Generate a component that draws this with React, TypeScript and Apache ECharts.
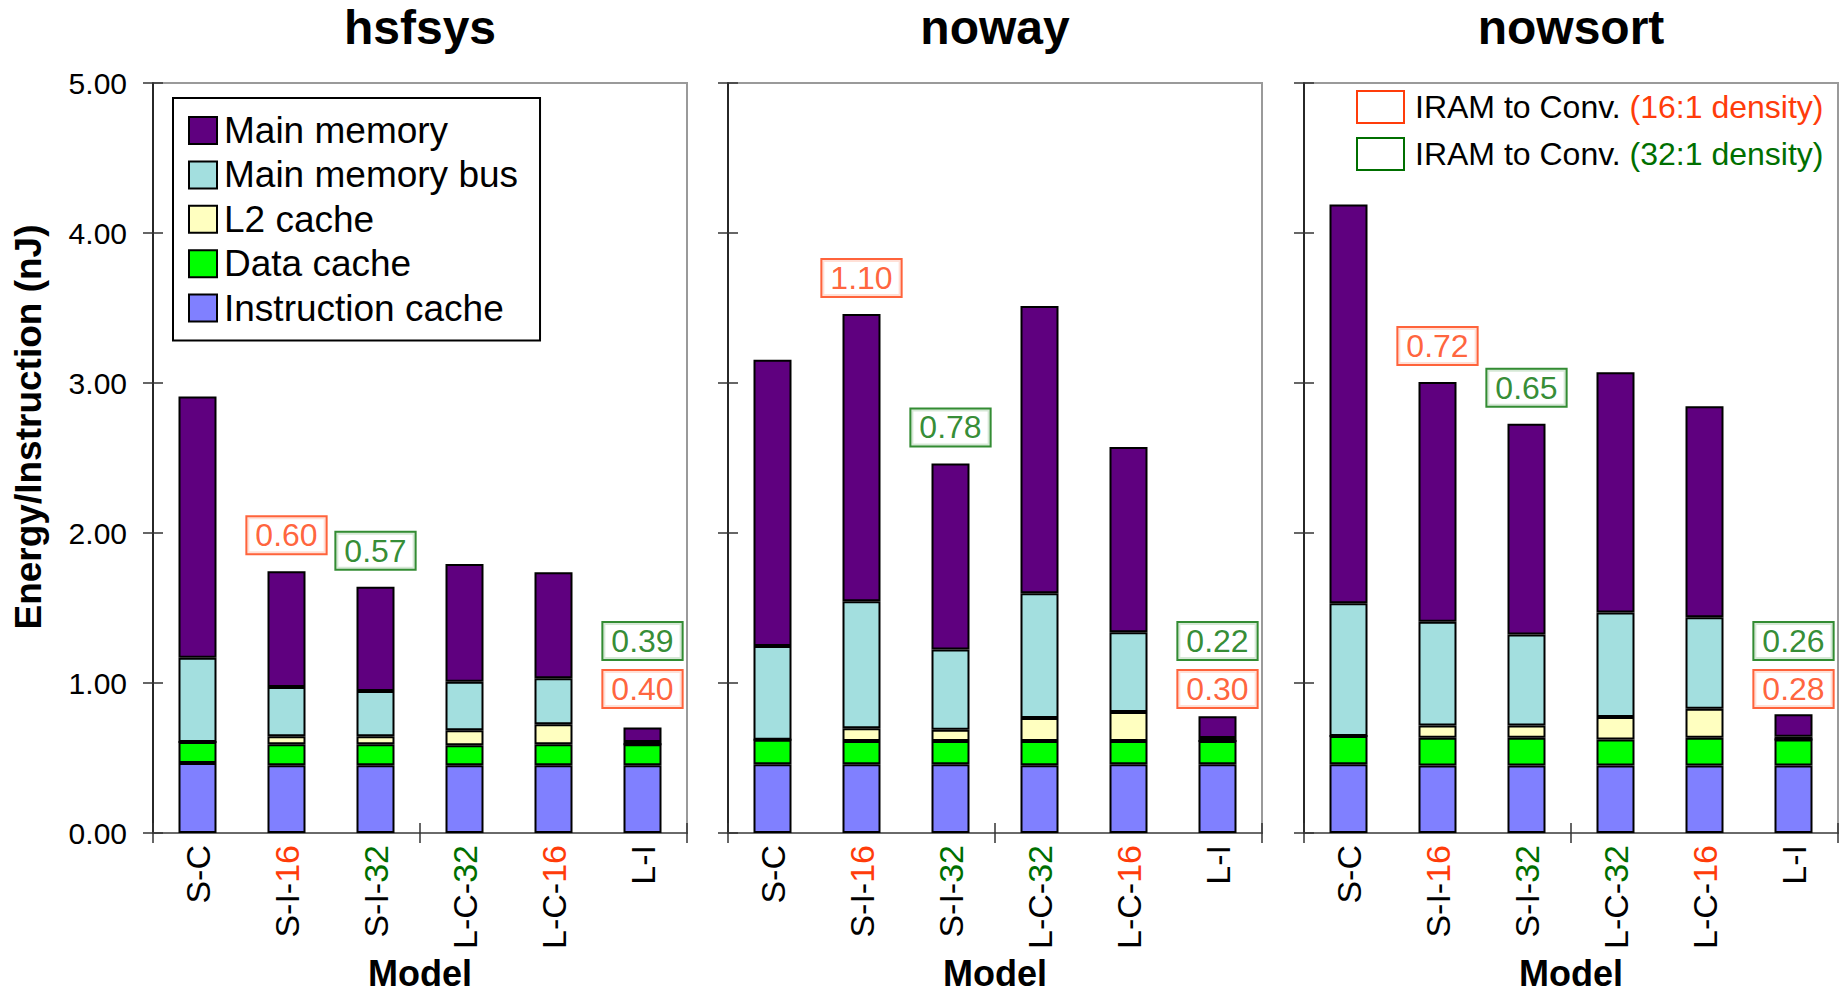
import React, { useEffect, useRef } from 'react';
import * as echarts from 'echarts';

// Benchmarks (one panel each) and memory-system models (one bar each)
const benchmarks = ['hsfsys', 'noway', 'nowsort'];
const models = ['S-C', 'S-I-16', 'S-I-32', 'L-C-32', 'L-C-16', 'L-I'];
const yTickValues = [0, 1, 2, 3, 4, 5];

// Energy per instruction (nJ) by component; one row per benchmark, columns follow `models`
const instructionCache = [
  [0.467, 0.452, 0.452, 0.452, 0.452, 0.452],
  [0.458, 0.458, 0.458, 0.451, 0.458, 0.458],
  [0.459, 0.45, 0.45, 0.45, 0.45, 0.45],
];
const dataCache = [
  [0.14, 0.14, 0.14, 0.133, 0.14, 0.14],
  [0.164, 0.155, 0.155, 0.162, 0.155, 0.155],
  [0.188, 0.185, 0.185, 0.174, 0.185, 0.174],
];
const l2Cache = [
  [0, 0.053, 0.053, 0.1, 0.133, 0],
  [0, 0.085, 0.076, 0.154, 0.194, 0],
  [0, 0.081, 0.081, 0.15, 0.193, 0],
];
const mainMemoryBus = [
  [0.562, 0.328, 0.302, 0.324, 0.306, 0.015],
  [0.625, 0.847, 0.535, 0.831, 0.532, 0.02],
  [0.885, 0.693, 0.608, 0.696, 0.61, 0.018],
];
const mainMemory = [
  [1.741, 0.772, 0.694, 0.785, 0.707, 0.096],
  [1.908, 1.915, 1.24, 1.916, 1.234, 0.145],
  [2.658, 1.598, 1.405, 1.601, 1.407, 0.15],
];

// IRAM-to-conventional energy ratios printed in the boxes
const ratioSmall16 = ['0.60', '1.10', '0.72']; // over S-I-16
const ratioSmall32 = ['0.57', '0.78', '0.65']; // over S-I-32
const ratioLarge32 = ['0.39', '0.22', '0.26']; // beside L-I
const ratioLarge16 = ['0.40', '0.30', '0.28']; // beside L-I

const componentNames = ['Instruction cache', 'Data cache', 'L2 cache', 'Main memory bus', 'Main memory'];
const componentValues = [instructionCache, dataCache, l2Cache, mainMemoryBus, mainMemory];
const componentColors = ['#8080FF', '#00FF00', '#FFFFC0', '#A3DFDF', '#5F007F'];

const RED = '#FF3C0A';
const GREEN = '#006F00';
const FONT = '"Liberation Sans", Arial, Helvetica, sans-serif';

// layout
const GRID_LEFTS = [153, 728, 1304];
const GRID_WIDTH = 534;
const GRID_TOP = 83;
const GRID_HEIGHT = 750;
const BOX_ABOVE_BAR = -36; // px offset of the ratio boxes above a bar
const LI_BOX_Y = { green: 1.28, red: 0.96 }; // value-axis anchors of the L-I boxes

const modelLabel = (m: string) => {
  if (m.endsWith('-16')) return `{k|${m.slice(0, -2)}}{r|16}`;
  if (m.endsWith('-32')) return `{k|${m.slice(0, -2)}}{g|32}`;
  return `{k|${m}}`;
};

const barTotal = (g: number, i: number) =>
  componentValues.reduce((s, arr) => s + arr[g][i], 0);

const tickStyle = { color: '#333', width: 1.5 };

function buildOption() {
  const grids: any[] = [];
  const xAxes: any[] = [];
  const yAxes: any[] = [];
  const series: any[] = [];
  const graphics: any[] = [];

  benchmarks.forEach((name, g) => {
    grids.push({
      left: GRID_LEFTS[g],
      top: GRID_TOP,
      width: GRID_WIDTH,
      height: GRID_HEIGHT,
      show: true,
      borderColor: '#9a9a9a',
      borderWidth: 2,
      backgroundColor: '#fff',
    });

    // category axis carrying the bars and model names
    xAxes.push({
      type: 'category',
      gridIndex: g,
      data: models,
      position: 'bottom',
      axisLine: { show: true, lineStyle: { color: '#6a6a6a', width: 2 } },
      axisTick: { show: false },
      axisLabel: {
        interval: 0,
        rotate: 90,
        margin: 12,
        formatter: modelLabel,
        rich: {
          k: { color: '#000', fontSize: 34, fontFamily: FONT },
          r: { color: RED, fontSize: 34, fontFamily: FONT },
          g: { color: GREEN, fontSize: 34, fontFamily: FONT },
        },
      },
    });
    // tick marks every third band boundary, crossing the baseline
    [false, true].forEach((inside) => {
      xAxes.push({
        type: 'value',
        gridIndex: g,
        position: 'bottom',
        min: 0,
        max: models.length,
        interval: 3,
        axisLine: { show: false },
        axisTick: { show: true, inside, length: 10, lineStyle: tickStyle },
        axisLabel: { show: false },
        splitLine: { show: false },
      });
    });

    yAxes.push({
      type: 'value',
      gridIndex: g,
      position: 'left',
      min: yTickValues[0],
      max: yTickValues[yTickValues.length - 1],
      interval: 1,
      axisLine: { show: true, lineStyle: { color: '#000', width: 1.5 } },
      axisTick: { show: true, length: 10, lineStyle: tickStyle },
      axisLabel: {
        show: g === 0,
        margin: 26,
        fontSize: 30,
        fontFamily: FONT,
        color: '#000',
        formatter: (v: number) => v.toFixed(2),
      },
      splitLine: { show: false },
    });
    yAxes.push({
      type: 'value',
      gridIndex: g,
      position: 'left',
      offset: 0,
      min: yTickValues[0],
      max: yTickValues[yTickValues.length - 1],
      interval: 1,
      axisLine: { show: false },
      axisTick: { show: true, inside: true, length: 10, lineStyle: tickStyle },
      axisLabel: { show: false },
      splitLine: { show: false },
    });

    componentNames.forEach((cname, c) => {
      series.push({
        type: 'bar',
        name: cname,
        xAxisIndex: g * 3,
        yAxisIndex: g * 2,
        stack: 'energy' + g,
        barWidth: 38,
        data: componentValues[c][g],
        itemStyle: { color: componentColors[c], borderColor: '#000', borderWidth: 2 },
        emphasis: { disabled: true },
      });
    });

    const box = (value: number[], text: string, color: string, dy: number) => ({
      value,
      label: {
        formatter: text,
        color,
        borderColor: color,
        offset: [0, dy],
      },
    });

    series.push({
      type: 'scatter',
      xAxisIndex: g * 3,
      yAxisIndex: g * 2,
      symbolSize: 1,
      itemStyle: { color: 'rgba(0,0,0,0)' },
      silent: true,
      z: 10,
      label: {
        show: true,
        position: 'inside',
        fontSize: 32,
        fontFamily: FONT,
        lineHeight: 31,
        backgroundColor: '#fff',
        borderWidth: 2,
        padding: [3, 8, 2, 8],
      },
      data: [
        box([1, barTotal(g, 1)], ratioSmall16[g], RED, BOX_ABOVE_BAR),
        box([2, barTotal(g, 2)], ratioSmall32[g], GREEN, BOX_ABOVE_BAR),
        box([5, LI_BOX_Y.green], ratioLarge32[g], GREEN, 0),
        box([5, LI_BOX_Y.red], ratioLarge16[g], RED, 0),
      ],
    });

    const cx = GRID_LEFTS[g] + GRID_WIDTH / 2;
    graphics.push({
      type: 'text',
      x: cx,
      y: 27.5,
      style: {
        text: name,
        font: `bold 48px ${FONT}`,
        fill: '#000',
        align: 'center',
        verticalAlign: 'middle',
      },
    });
    graphics.push({
      type: 'text',
      x: cx,
      y: 973,
      style: {
        text: 'Model',
        font: `bold 36px ${FONT}`,
        fill: '#000',
        align: 'center',
        verticalAlign: 'middle',
      },
    });
  });

  graphics.push({
    type: 'text',
    x: 28,
    y: 427,
    rotation: Math.PI / 2,
    style: {
      text: 'Energy/Instruction (nJ)',
      font: `bold 37px ${FONT}`,
      fill: '#000',
      align: 'center',
      verticalAlign: 'middle',
    },
  });

  // density key in the last panel
  const keys = [
    { y: 91, color: RED, text: '(16:1 density)' },
    { y: 138, color: GREEN, text: '(32:1 density)' },
  ];
  keys.forEach((k) => {
    graphics.push({
      type: 'rect',
      shape: { x: 1357, y: k.y, width: 47, height: 32 },
      style: { fill: '#fff', stroke: k.color, lineWidth: 2 },
    });
    graphics.push({
      type: 'text',
      x: 1415,
      y: k.y + 16,
      style: {
        text: `{k|IRAM to Conv. }{c|${k.text}}`,
        font: `32px ${FONT}`,
        align: 'left',
        verticalAlign: 'middle',
        rich: {
          k: { fill: '#000', fontSize: 32, fontFamily: FONT },
          c: { fill: k.color, fontSize: 32, fontFamily: FONT },
        },
      },
    });
  });

  return {
    animation: false,
    backgroundColor: '#fff',
    grid: grids,
    xAxis: xAxes,
    yAxis: yAxes,
    series,
    legend: {
      data: [...componentNames].reverse(),
      orient: 'vertical',
      left: 173,
      top: 98,
      padding: [14, 22, 14, 15],
      itemWidth: 28,
      itemHeight: 27,
      itemGap: 7.4,
      icon: 'rect',
      selectedMode: false,
      borderColor: '#000',
      borderWidth: 2,
      backgroundColor: '#fff',
      textStyle: { fontSize: 37, fontFamily: FONT, color: '#000', padding: [0, 0, 0, 2] },
    },
    graphic: { elements: graphics },
  };
}

export default function App() {
  const ref = useRef<HTMLDivElement>(null);
  useEffect(() => {
    if (!ref.current) return;
    const chart = echarts.init(ref.current, undefined, { renderer: 'svg' });
    chart.setOption(buildOption() as any);
    return () => chart.dispose();
  }, []);
  return (
    <div
      ref={ref}
      style={{ position: 'absolute', left: 0, top: 0, width: 1847, height: 995, background: '#fff' }}
    />
  );
}
